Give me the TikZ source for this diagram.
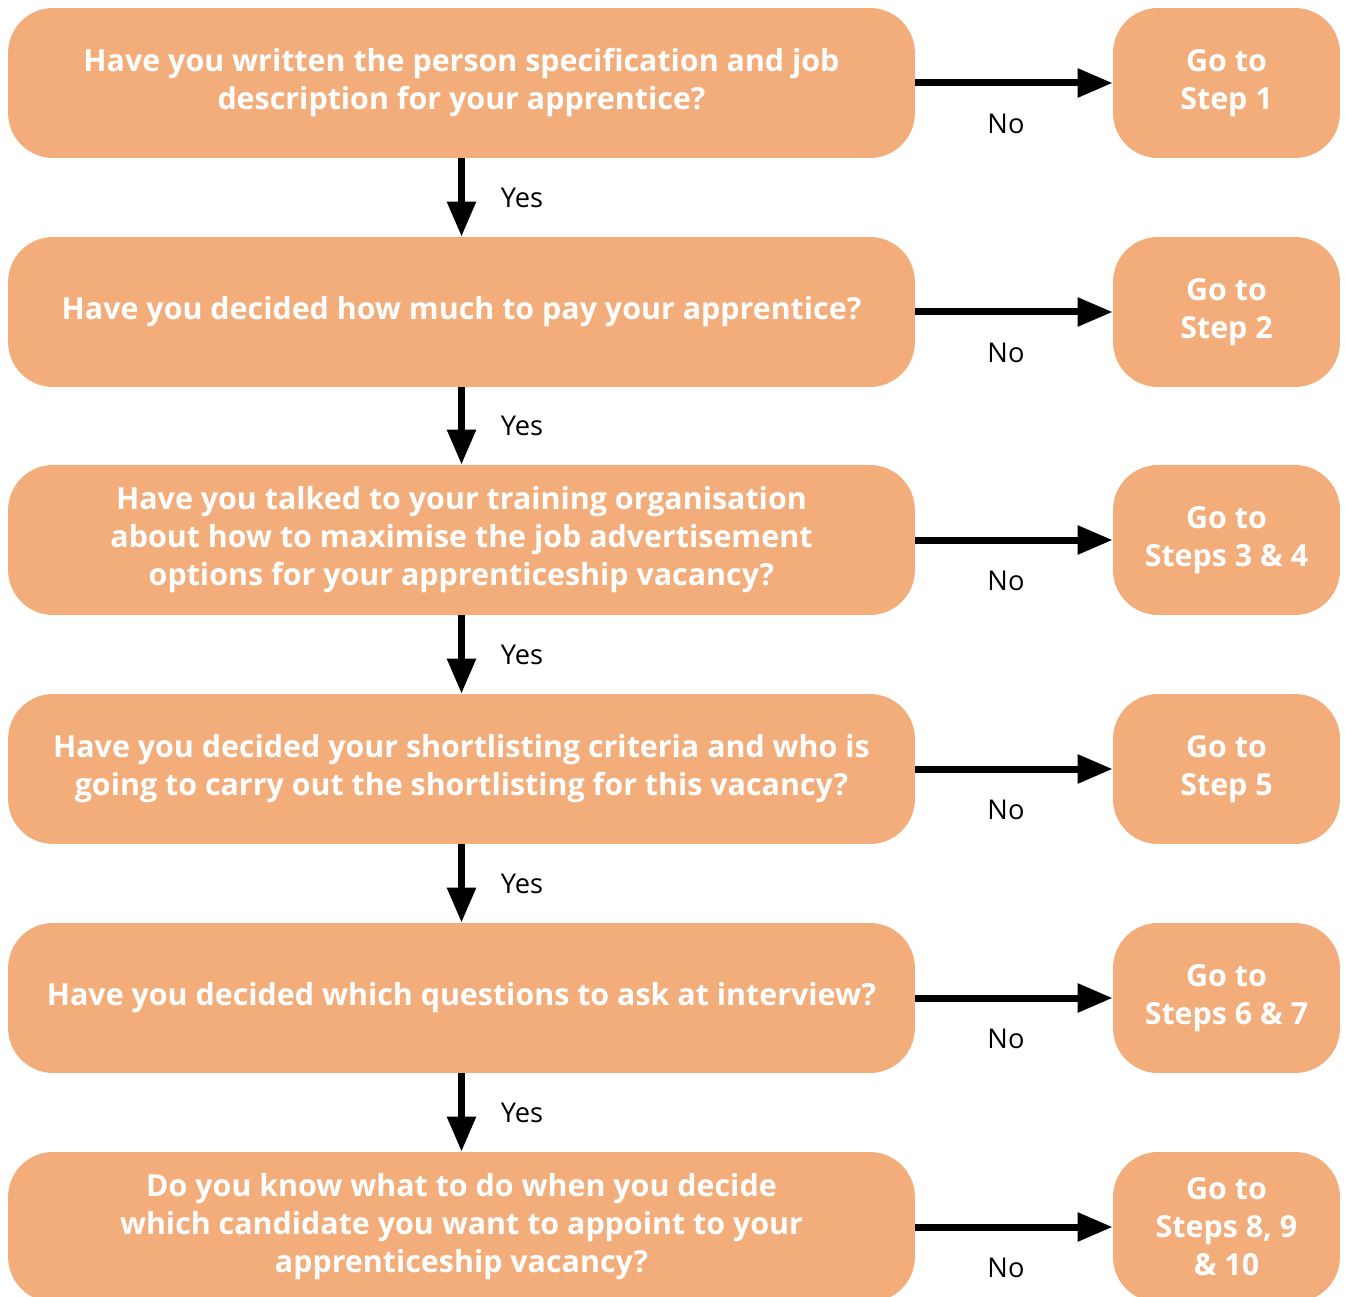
\documentclass[tikz,border=0pt]{standalone}
\usepackage{fontspec}
\setmainfont{Open Sans}
\usetikzlibrary{arrows.meta, positioning}
\definecolor{boxorange}{HTML}{F3AD7B}

\begin{document}
\begin{tikzpicture}[
    x=0.02cm, y=-0.02cm,
    % Define question box style
    question box/.style={
        fill=boxorange, % Orange fill
        rounded corners=0.9cm, % Round corners
        minimum width=18.14cm, % Minimum width
        minimum height=3cm, % Minimum height
        text=white, % White text
        font=\fontsize{17.3}{21.6}\selectfont\bfseries,
        align=center % Center alignment
      },
    % Define step box style
    step box/.style={
        question box,
        minimum width=4.54cm % Narrower box
      },
    % Define answer label style
    answer/.style={
        font=\fontsize{15.5}{18}\selectfont,
        inner sep=0pt
      },
    % Define arrow style
    flow/.style={
        -{Triangle[length=0.7cm, width=0.55cm]}, % Arrow type
        line width=0.14cm % Line thickness
      }
  ]

  % Fix the page size
  \useasboundingbox (0,0) rectangle (1345,1297);

  % Question nodes on the left
  \node[question box] (Spec) at (461.5, 83) {Have you written the person specification and job\\description for your apprentice?};
  \node[question box] (Pay) at (461.5, 312) {Have you decided how much to pay your apprentice?};
  \node[question box] (Advert) at (461.5, 540) {Have you talked to your training organisation\\about how to maximise the job advertisement\\options for your apprenticeship vacancy?};
  \node[question box] (Shortlist) at (461.5, 769) {Have you decided your shortlisting criteria and who is\\going to carry out the shortlisting for this vacancy?};
  \node[question box] (Interview) at (461.5, 998) {Have you decided which questions to ask at interview?};
  \node[question box] (Appoint) at (461.5, 1227) {Do you know what to do when you decide\\which candidate you want to appoint to your\\apprenticeship vacancy?};

  % Step nodes on the right
  \node[step box] (Step1) at (1226.5, 83) {Go to\\Step 1};
  \node[step box] (Step2) at (1226.5, 312) {Go to\\Step 2};
  \node[step box] (Step34) at (1226.5, 540) {Go to\\Steps 3 \& 4};
  \node[step box] (Step5) at (1226.5, 769) {Go to\\Step 5};
  \node[step box] (Step67) at (1226.5, 998) {Go to\\Steps 6 \& 7};
  \node[step box] (Step8910) at (1226.5, 1227) {Go to\\Steps 8, 9\\\& 10};

  % No arrows: question to step
  \draw[flow] (Spec) -- node[answer, midway, below=0.55cm, xshift=-0.16cm] {No} (Step1);
  \draw[flow] (Pay) -- node[answer, midway, below=0.55cm, xshift=-0.16cm] {No} (Step2);
  \draw[flow] (Advert) -- node[answer, midway, below=0.55cm, xshift=-0.16cm] {No} (Step34);
  \draw[flow] (Shortlist) -- node[answer, midway, below=0.55cm, xshift=-0.16cm] {No} (Step5);
  \draw[flow] (Interview) -- node[answer, midway, below=0.55cm, xshift=-0.16cm] {No} (Step67);
  \draw[flow] (Appoint) -- node[answer, midway, below=0.55cm, xshift=-0.16cm] {No} (Step8910);

  % Yes arrows: question to next question
  \draw[flow] (Spec) -- node[answer, midway, right=0.72cm] {Yes} (Pay);
  \draw[flow] (Pay) -- node[answer, midway, right=0.72cm] {Yes} (Advert);
  \draw[flow] (Advert) -- node[answer, midway, right=0.72cm] {Yes} (Shortlist);
  \draw[flow] (Shortlist) -- node[answer, midway, right=0.72cm] {Yes} (Interview);
  \draw[flow] (Interview) -- node[answer, midway, right=0.72cm] {Yes} (Appoint);

\end{tikzpicture}
\end{document}
